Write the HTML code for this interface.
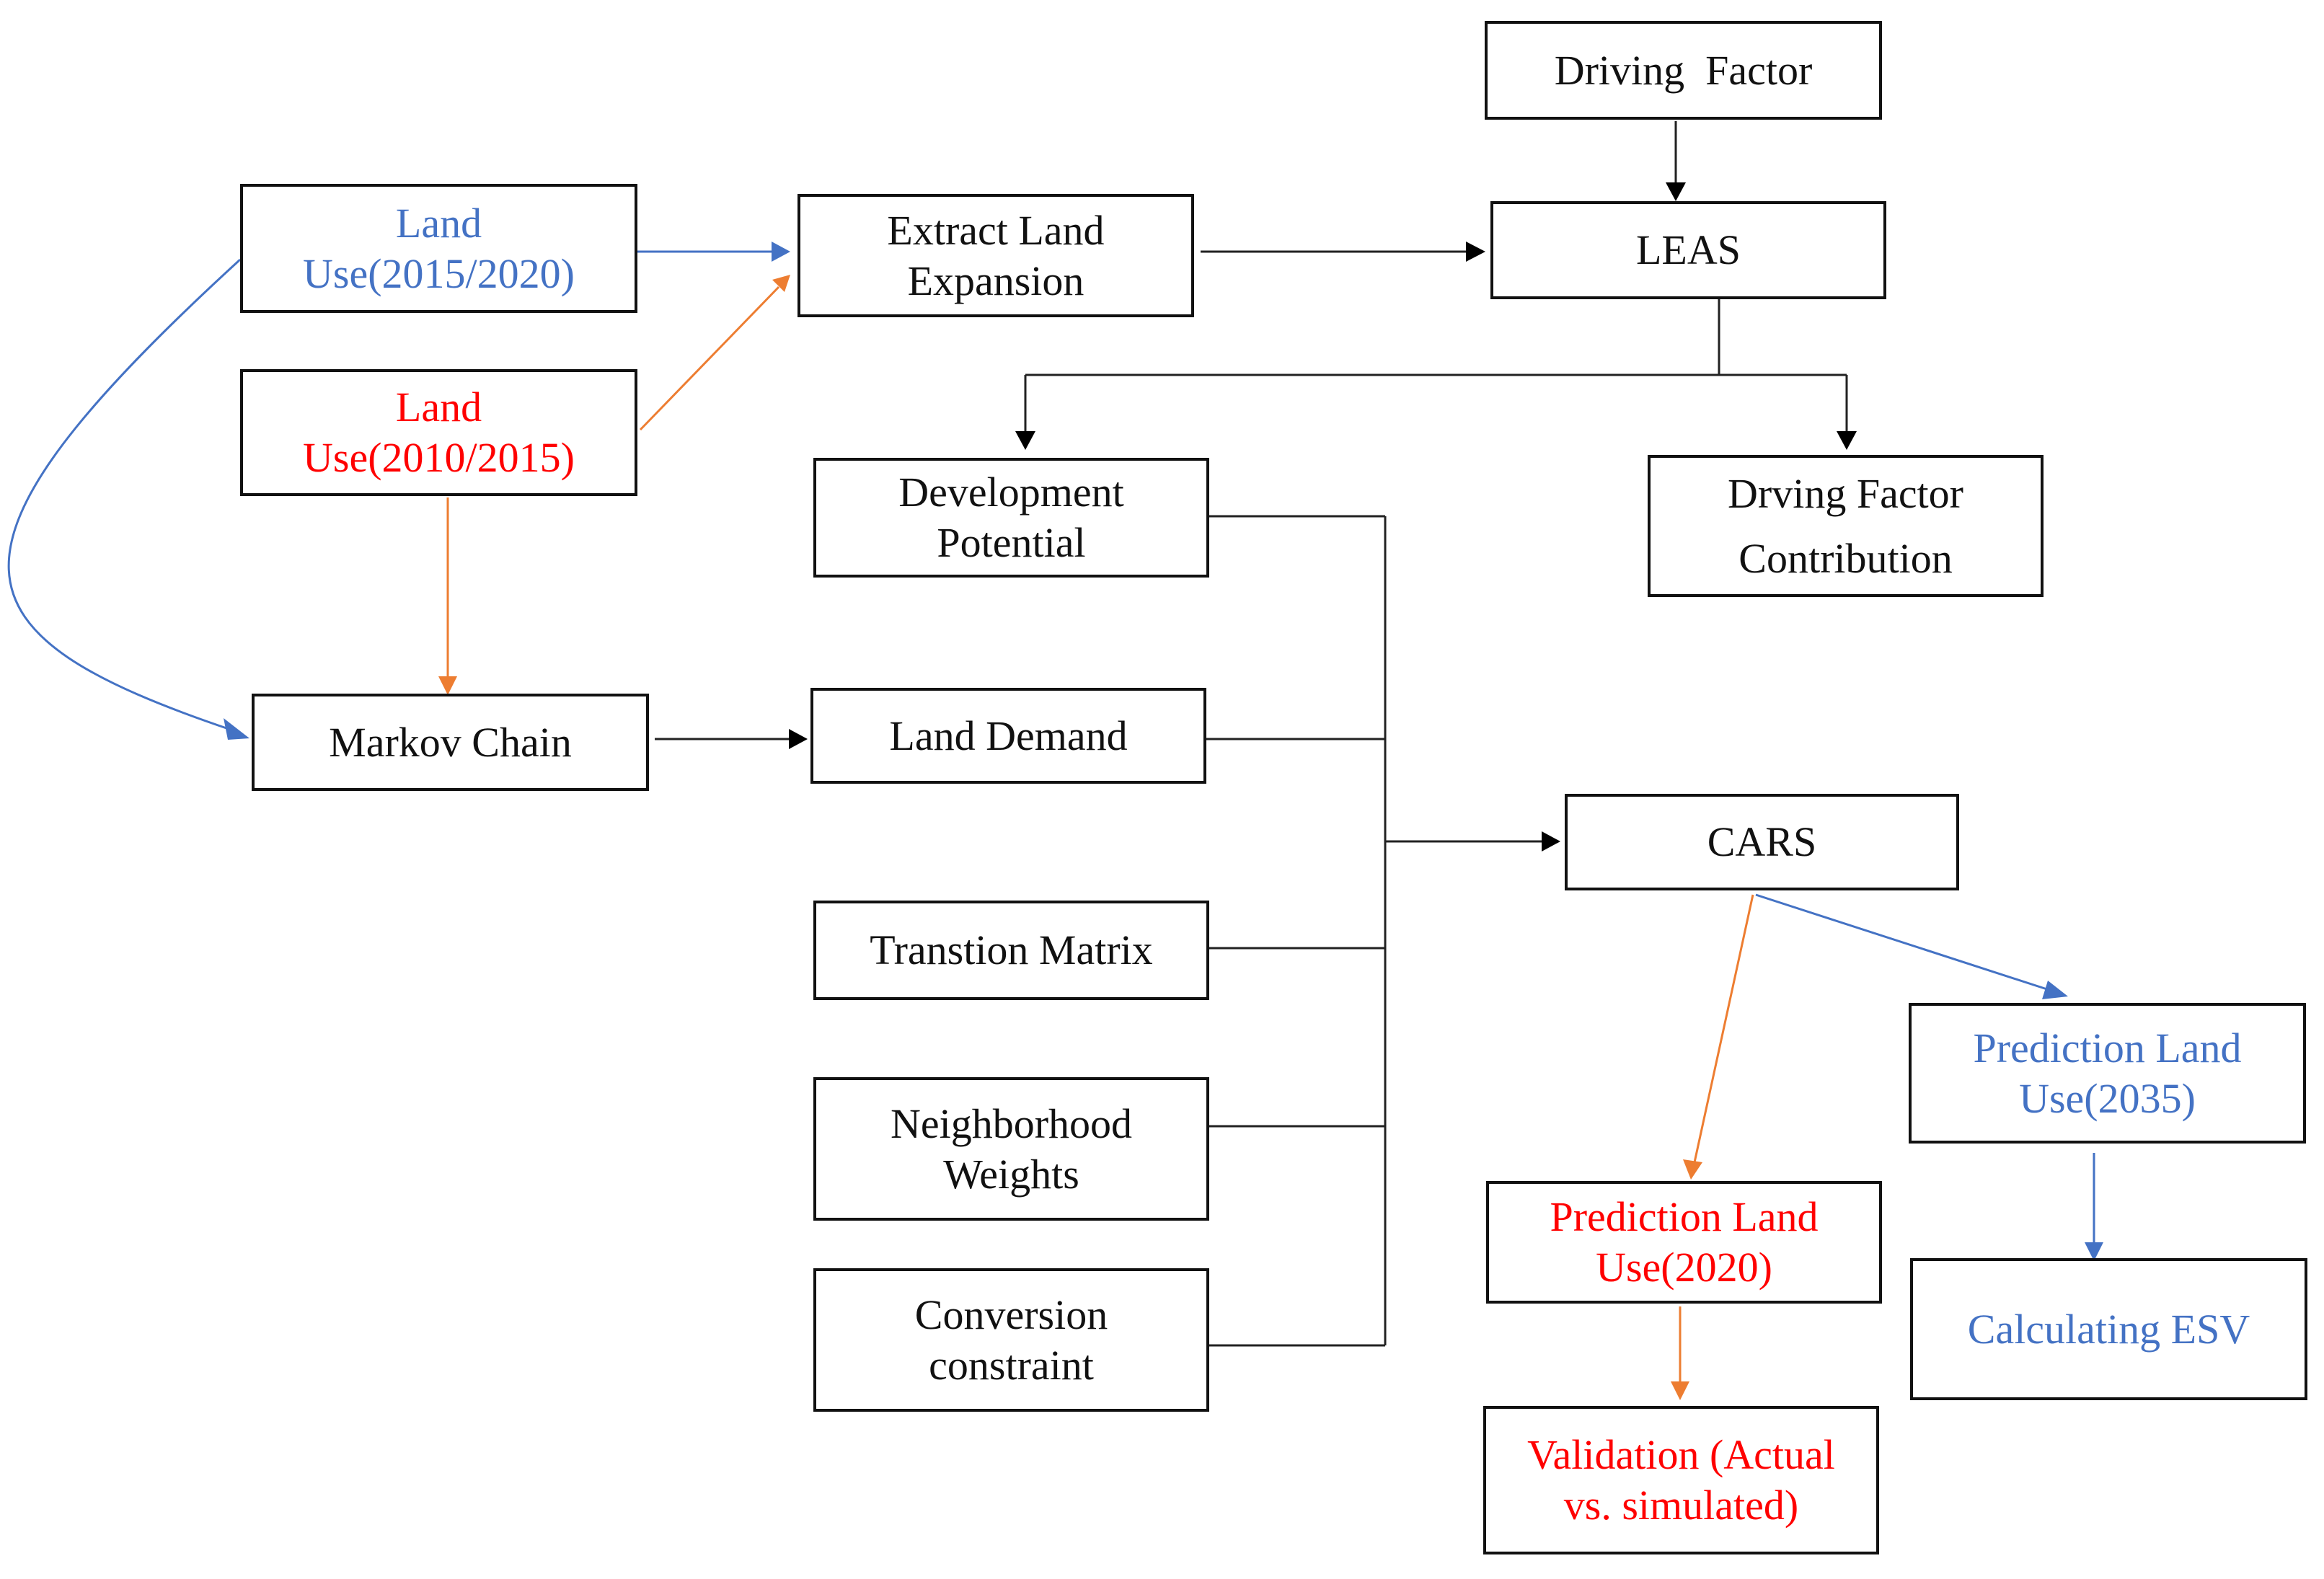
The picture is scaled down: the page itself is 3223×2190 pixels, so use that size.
<!DOCTYPE html>
<html><head><meta charset="utf-8"><style>
html,body{margin:0;padding:0;background:#fff}
#c{position:relative;width:3223px;height:2190px;overflow:hidden;font-family:"Liberation Serif",serif;}
.b{position:absolute;box-sizing:border-box;border:4px solid #111;display:flex;align-items:center;justify-content:center;text-align:center;font-size:58px;line-height:70px;color:#111;background:#fff}
.bl{color:#4472C4}.rd{color:#FF0000}
svg{position:absolute;left:0;top:0}
</style></head><body><div id="c">
<svg width="3223" height="2190">
<style>.k{stroke:#222;stroke-width:3;fill:none}.u{stroke:#4472C4;stroke-width:3;fill:none}.o{stroke:#ED7D31;stroke-width:3;fill:none}</style>
<line class="u" x1="884" y1="349" x2="1070" y2="349"/><path d="M1070,335L1096,349L1070,363z" fill="#4472C4"/>
<line class="o" x1="888" y1="596" x2="1080" y2="398"/><path d="M1071,388L1096,381L1088,405z" fill="#ED7D31"/>
<line class="k" x1="1665" y1="349" x2="2035" y2="349"/><path d="M2033,335L2060,349L2033,363z" fill="#000"/>
<line class="k" x1="2324" y1="168" x2="2324" y2="255"/><path d="M2310,253L2324,279L2338,253z" fill="#000"/>
<polyline class="k" points="2384,415 2384,520"/>
<line class="k" x1="1422" y1="520" x2="2561" y2="520"/>
<line class="k" x1="1422" y1="520" x2="1422" y2="600"/><path d="M1408,598L1422,624L1436,598z" fill="#000"/>
<line class="k" x1="2561" y1="520" x2="2561" y2="600"/><path d="M2547,598L2561,624L2575,598z" fill="#000"/>
<line class="o" x1="621" y1="690" x2="621" y2="940"/><path d="M608,938L621,964L634,938z" fill="#ED7D31"/>
<path class="u" d="M333,360 C -115,770 -70,880 320,1012"/><path d="M310,996L346,1024L316,1026z" fill="#4472C4"/>
<line class="k" x1="908" y1="1025" x2="1096" y2="1025"/><path d="M1094,1011L1120,1025L1094,1039z" fill="#000"/>
<line class="k" x1="1921" y1="716" x2="1921" y2="1866"/>
<line class="k" x1="1677" y1="716" x2="1921" y2="716"/>
<line class="k" x1="1673" y1="1025" x2="1921" y2="1025"/>
<line class="k" x1="1677" y1="1315" x2="1921" y2="1315"/>
<line class="k" x1="1677" y1="1562" x2="1921" y2="1562"/>
<line class="k" x1="1677" y1="1866" x2="1921" y2="1866"/>
<line class="k" x1="1921" y1="1167" x2="2140" y2="1167"/><path d="M2138,1153L2164,1167L2138,1181z" fill="#000"/>
<line class="o" x1="2431" y1="1241" x2="2350" y2="1612"/><path d="M2334,1608L2345,1636L2361,1612z" fill="#ED7D31"/>
<line class="u" x1="2435" y1="1241" x2="2845" y2="1374"/><path d="M2840,1360L2868,1382L2832,1386z" fill="#4472C4"/>
<line class="u" x1="2904" y1="1599" x2="2904" y2="1725"/><path d="M2891,1723L2904,1749L2917,1723z" fill="#4472C4"/>
<line class="o" x1="2330" y1="1812" x2="2330" y2="1918"/><path d="M2317,1916L2330,1942L2343,1916z" fill="#ED7D31"/>
</svg>
<div class="b" style="left:2059px;top:29px;width:551px;height:137px">Driving&nbsp; Factor</div>
<div class="b bl" style="left:333px;top:255px;width:551px;height:179px">Land<br>Use(2015/2020)</div>
<div class="b" style="left:1106px;top:269px;width:550px;height:171px">Extract Land<br>Expansion</div>
<div class="b" style="left:2067px;top:279px;width:549px;height:136px">LEAS</div>
<div class="b rd" style="left:333px;top:512px;width:551px;height:176px">Land<br>Use(2010/2015)</div>
<div class="b" style="left:1128px;top:635px;width:549px;height:166px">Development<br>Potential</div>
<div class="b" style="left:2285px;top:631px;width:549px;height:197px;line-height:90px">Drving Factor<br>Contribution</div>
<div class="b" style="left:349px;top:962px;width:551px;height:135px">Markov Chain</div>
<div class="b" style="left:1124px;top:954px;width:549px;height:133px">Land Demand</div>
<div class="b" style="left:2170px;top:1101px;width:547px;height:134px">CARS</div>
<div class="b" style="left:1128px;top:1249px;width:549px;height:138px">Transtion Matrix</div>
<div class="b bl" style="left:2647px;top:1391px;width:551px;height:195px">Prediction Land<br>Use(2035)</div>
<div class="b" style="left:1128px;top:1494px;width:549px;height:199px">Neighborhood<br>Weights</div>
<div class="b rd" style="left:2061px;top:1638px;width:549px;height:170px">Prediction Land<br>Use(2020)</div>
<div class="b bl" style="left:2649px;top:1745px;width:551px;height:197px">Calculating ESV</div>
<div class="b" style="left:1128px;top:1759px;width:549px;height:199px">Conversion<br>constraint</div>
<div class="b rd" style="left:2057px;top:1950px;width:549px;height:206px">Validation (Actual<br>vs. simulated)</div>
</div></body></html>
